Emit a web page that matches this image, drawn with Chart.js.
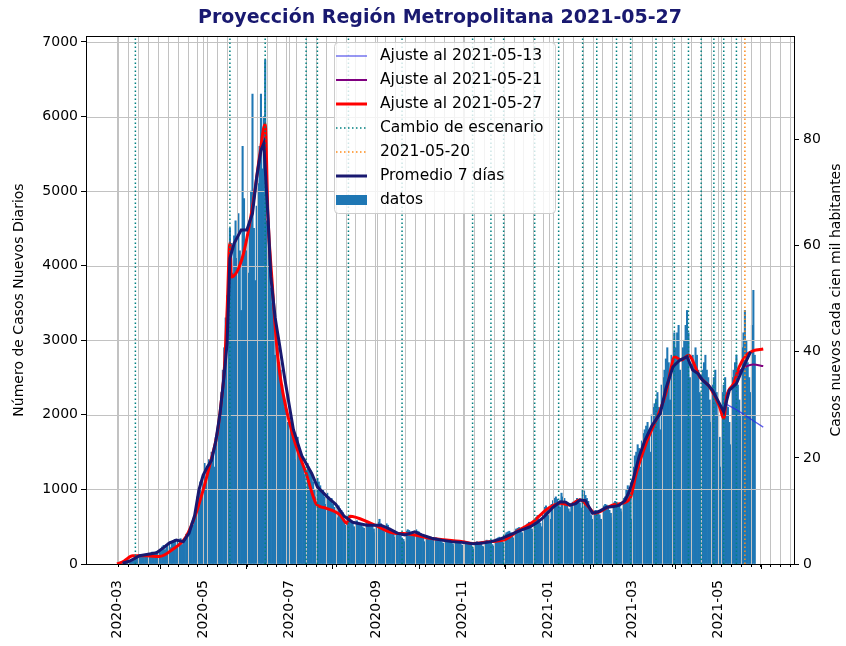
<!DOCTYPE html>
<html>
<head>
<meta charset="utf-8">
<script src="https://cdn.jsdelivr.net/npm/chart.js@4.4.0/dist/chart.umd.min.js"></script>
<style>
  html, body { margin: 0; padding: 0; background: #fff; }
  #grafico { display: block; }
</style>
</head>
<body>
<canvas id="grafico" width="846" height="646"></canvas>
<script>
// casos nuevos diarios RM, desde el 2020-03-03
const inicio = '2020-03-03';
const casosDiarios = [
  // mar 2020
  1, 2, 3, 5, 8, 10, 15, 20, 30, 40, 55, 70, 80, 95, 100, 90, 110, 120, 105, 130, 100, 115, 140, 160, 130, 150, 170, 140, 180,
  // abr
  200, 230, 250, 190, 260, 280, 300, 220, 290, 310, 330, 250, 320, 300, 340, 260, 310, 330, 400, 350, 420, 480, 560, 520, 640, 700, 900, 1000, 1100, 950,
  // may
  1200, 1350, 1100, 1300, 1400, 1350, 1500, 1450, 1300, 1700, 1800, 2000, 2100, 2300, 2600, 2900, 3300, 3600, 4000, 4500, 4300, 3900, 4400, 4600, 4100, 4700, 4200, 3400, 5600, 4900, 4300,
  // jun
  4200, 3900, 4600, 5000, 6300, 4500, 3800, 4800, 5100, 5600, 6300, 5300, 6000, 6760, 4600, 4300, 4000, 3700, 3500, 3300, 2800, 3100, 2900, 2700, 2600, 2400, 2200, 2100, 1700, 1900,
  // jul
  2000, 1900, 1850, 1750, 1600, 1400, 1700, 1500, 1400, 1450, 1300, 1200, 1100, 1350, 1300, 1250, 1200, 1100, 1000, 900, 1150, 1100, 1050, 950, 1000, 900, 800, 950, 900, 850, 880,
  // ago
  800, 760, 700, 620, 780, 740, 720, 690, 600, 520, 640, 620, 580, 560, 540, 500, 450, 580, 560, 540, 520, 500, 480, 440, 560, 540, 520, 500, 530, 470, 420,
  // sep
  520, 560, 600, 540, 500, 470, 430, 540, 520, 480, 450, 430, 400, 360, 420, 410, 400, 380, 350, 330, 300, 440, 460, 450, 430, 420, 400, 370, 460, 440,
  // oct
  430, 400, 380, 350, 300, 380, 370, 360, 350, 340, 320, 280, 350, 340, 330, 320, 300, 280, 250, 320, 310, 300, 310, 290, 270, 240, 310, 300, 290, 280, 260,
  // nov
  250, 230, 290, 280, 270, 290, 260, 220, 200, 290, 300, 280, 290, 270, 240, 230, 310, 320, 300, 310, 290, 260, 240, 330, 340, 350, 360, 330, 300, 280,
  // dic
  400, 420, 430, 440, 420, 380, 350, 460, 470, 480, 490, 470, 420, 390, 500, 520, 540, 560, 530, 470, 430, 580, 620, 650, 600, 550, 500, 700, 760, 780, 720,
  // ene 2021
  650, 600, 800, 850, 880, 900, 870, 820, 760, 950, 900, 880, 820, 780, 740, 700, 780, 830, 800, 850, 880, 860, 820, 750, 1000, 980, 920, 880, 840, 720, 650,
  // feb
  600, 700, 720, 700, 680, 660, 600, 560, 780, 800, 790, 760, 720, 680, 620, 820, 840, 830, 800, 780, 740, 700, 880, 900, 1000, 1050, 980, 900,
  // mar
  600, 1300, 1450, 1500, 1600, 1550, 1300, 1650, 1750, 1800, 1850, 1900, 1800, 1500, 2000, 2100, 2150, 2200, 2300, 2100, 1800, 2400, 2500, 2600, 2750, 2900, 2700, 2200, 2800, 3000, 3100,
  // abr
  2900, 3100, 3200, 2600, 2300, 2900, 3000, 3200, 3400, 3100, 2500, 2200, 2800, 2700, 2900, 2800, 2600, 2300, 2000, 2600, 2700, 2800, 2600, 2500, 2200, 1900, 2400, 2500, 2600, 2300,
  // may
  2000, 1700, 1300, 2300, 2400, 2500, 2200, 2100, 1900, 1600, 2500, 2600, 2700, 2800, 2400, 2200, 2000, 2900, 3100, 3400, 3000, 2700, 2500, 2300, 3200, 3670, 2800
];

const promedioFechas = [
  '2020-03-05', '2020-03-10', '2020-03-17', '2020-03-23', '2020-03-29', '2020-04-03', '2020-04-07', '2020-04-12',
  '2020-04-17', '2020-04-21', '2020-04-25', '2020-04-28', '2020-05-01', '2020-05-04', '2020-05-07', '2020-05-10',
  '2020-05-13', '2020-05-16', '2020-05-18', '2020-05-20', '2020-05-23', '2020-05-28', '2020-06-01', '2020-06-05',
  '2020-06-08', '2020-06-11', '2020-06-13', '2020-06-16', '2020-06-18', '2020-06-21', '2020-06-24', '2020-06-28',
  '2020-07-04', '2020-07-10', '2020-07-17', '2020-07-21', '2020-07-28', '2020-08-03', '2020-08-09', '2020-08-15',
  '2020-08-20', '2020-08-25', '2020-08-30', '2020-09-04', '2020-09-10', '2020-09-16', '2020-09-21', '2020-09-28',
  '2020-10-03', '2020-10-10', '2020-10-17', '2020-10-24', '2020-10-31', '2020-11-05', '2020-11-09', '2020-11-15',
  '2020-11-21', '2020-11-27', '2020-12-02', '2020-12-07', '2020-12-12', '2020-12-19', '2020-12-24', '2020-12-28',
  '2020-12-31', '2021-01-04', '2021-01-09', '2021-01-13', '2021-01-16', '2021-01-20', '2021-01-23', '2021-01-27',
  '2021-02-01', '2021-02-05', '2021-02-11', '2021-02-16', '2021-02-20', '2021-02-24', '2021-02-27', '2021-03-02',
  '2021-03-06', '2021-03-10', '2021-03-15', '2021-03-21', '2021-03-25', '2021-03-30', '2021-04-04', '2021-04-09',
  '2021-04-13', '2021-04-17', '2021-04-20', '2021-04-24', '2021-04-27', '2021-05-02', '2021-05-05', '2021-05-09',
  '2021-05-14', '2021-05-19', '2021-05-24'
];
const promedioValores = [
  10, 40, 110, 130, 150, 220, 280, 320,
  300, 410, 650, 990, 1190, 1300, 1390, 1650,
  2020, 2550, 2960, 4100, 4300, 4480, 4480, 4700,
  5190, 5550, 5640, 4650, 3850, 3310, 2960, 2470,
  1800, 1450, 1215, 1035, 900, 800, 640, 560,
  540, 520, 520, 520, 470, 410, 390, 430,
  390, 345, 320, 300, 290, 280, 270, 280,
  300, 330, 370, 410, 450, 500, 560, 620,
  680, 760, 835, 830, 790, 810, 858, 850,
  680, 700, 760, 770, 790, 850, 970, 1150,
  1440, 1650, 1850, 2020, 2350, 2645, 2735, 2780,
  2600, 2550, 2465, 2400, 2330, 2150, 2040, 2330,
  2420, 2645, 2845
];

// ajuste con datos al 2021-05-27
const ajuste27Fechas = [
  '2020-03-01', '2020-03-06', '2020-03-12', '2020-03-22', '2020-03-31', '2020-04-09', '2020-04-19', '2020-04-26',
  '2020-05-01', '2020-05-06', '2020-05-11', '2020-05-14', '2020-05-16', '2020-05-18', '2020-05-20', '2020-05-21',
  '2020-05-29', '2020-06-05', '2020-06-10', '2020-06-14', '2020-06-16', '2020-06-19', '2020-06-22', '2020-06-25',
  '2020-07-04', '2020-07-13', '2020-07-20', '2020-07-23', '2020-07-27', '2020-08-06', '2020-08-11', '2020-08-13',
  '2020-08-28', '2020-09-15', '2020-09-20', '2020-10-09', '2020-11-01', '2020-11-08', '2020-11-20', '2020-11-30',
  '2020-12-11', '2020-12-21', '2020-12-30', '2021-01-09', '2021-01-16', '2021-01-23', '2021-01-28', '2021-02-03',
  '2021-02-06', '2021-02-15', '2021-02-22', '2021-02-28', '2021-03-04', '2021-03-11', '2021-03-18', '2021-03-20',
  '2021-03-25', '2021-03-30', '2021-03-31', '2021-04-05', '2021-04-10', '2021-04-18', '2021-04-25', '2021-05-02',
  '2021-05-05', '2021-05-07', '2021-05-12', '2021-05-16', '2021-05-21', '2021-05-26', '2021-06-02'
];
const ajuste27Valores = [
  0, 40, 110, 110, 100, 190, 370, 680,
  990, 1350, 1750, 2200, 2600, 3400, 4300, 3850,
  4120, 4790, 5460, 5900, 4650, 3760, 2960, 2470,
  1700, 1215, 810, 770, 750, 660, 545, 640,
  545, 410, 410, 345, 300, 275, 300, 320,
  455, 567, 725, 815, 790, 860, 790, 680,
  700, 790, 815, 900, 1215, 1620, 1930, 2020,
  2290, 2735, 2780, 2735, 2800, 2510, 2375, 2110,
  1950, 2240, 2420, 2645, 2800, 2860, 2882
];

// ajustes anteriores (solo el tramo final se separa del último)
const ajuste21Fechas = ['2021-05-05', '2021-05-07', '2021-05-12', '2021-05-16', '2021-05-21', '2021-05-26', '2021-06-02'];
const ajuste21Valores = [1950, 2240, 2420, 2580, 2650, 2675, 2654];
const ajuste13Fechas = ['2021-05-05', '2021-05-12', '2021-05-19', '2021-05-26', '2021-06-02'];
const ajuste13Valores = [2160, 2090, 2010, 1920, 1836];

const escenarios = [
  '2020-03-14', '2020-05-20', '2020-06-14', '2020-07-13', '2020-07-21', '2020-08-12', '2020-09-19', '2020-11-08',
  '2020-11-21', '2020-11-30', '2020-12-22', '2021-01-08', '2021-01-25', '2021-02-04', '2021-02-18', '2021-02-28',
  '2021-03-18', '2021-03-31', '2021-04-10', '2021-04-19', '2021-04-28', '2021-05-05', '2021-05-14'
];
const fechaCorte = '2021-05-20';

const etiquetasMeses = ['2020-03', '2020-05', '2020-07', '2020-09', '2020-11', '2021-01', '2021-03', '2021-05'];
const ticksCasos = [0, 1000, 2000, 3000, 4000, 5000, 6000, 7000];
const ticksTasa = [0, 20, 40, 60, 80];
const poblacion = 7112808;

const Y_MAX = 7080;
const X_MIN = -22, X_MAX = 479.8;
const FUENTE = 'DejaVu Sans';

Chart.defaults.font.family = FUENTE;
Chart.defaults.color = '#000';

const dia0 = Date.UTC(2020, 2, 1);
function dia(f) {
  const [a, m, d] = f.split('-').map(Number);
  return (Date.UTC(a, m - 1, d || 1) - dia0) / 864e5;
}
function puntos(fechas, valores) {
  return fechas.map((f, i) => ({ x: dia(f), y: valores[i] }));
}
function verticales(fechas) {
  const p = [];
  fechas.forEach(f => {
    const x = dia(f);
    p.push({ x: x, y: 0 }, { x: x, y: Y_MAX }, { x: x, y: null });
  });
  return p;
}

const barras = casosDiarios.map((v, i) => ({ x: dia(inicio) + i, y: v }));

// lunes para la rejilla menor
const lunes = [];
for (let d = 1; d <= X_MAX; d += 7) lunes.push(d);

const leyenda = [
  { texto: 'Ajuste al 2021-05-13', color: 'rgba(40,40,230,0.75)', ancho: 1.3 },
  { texto: 'Ajuste al 2021-05-21', color: '#800080', ancho: 2 },
  { texto: 'Ajuste al 2021-05-27', color: '#ff0000', ancho: 3 },
  { texto: 'Cambio de escenario', color: '#008080', ancho: 1.5, punteada: true },
  { texto: '2021-05-20', color: '#ff8c1a', ancho: 1.5, punteada: true },
  { texto: 'Promedio 7 días', color: '#191970', ancho: 3 },
  { texto: 'datos', color: '#1f77b4', barra: true }
];

const decorado = {
  id: 'decorado',
  afterDatasetDraw(chart, args) {
    if (args.index !== 0) return;
    // rejilla sobre las barras
    const ctx = chart.ctx, a = chart.chartArea;
    const sx = chart.scales.x, sy = chart.scales.y;
    ctx.save();
    ctx.strokeStyle = '#c2c2c2';
    ctx.lineWidth = 1;
    ctx.beginPath();
    lunes.concat(etiquetasMeses.map(dia)).forEach(d => {
      const x = Math.round(sx.getPixelForValue(d)) + 0.5;
      ctx.moveTo(x, a.top); ctx.lineTo(x, a.bottom);
    });
    ticksCasos.forEach(v => {
      const y = Math.round(sy.getPixelForValue(v)) + 0.5;
      ctx.moveTo(a.left, y); ctx.lineTo(a.right, y);
    });
    ctx.stroke();
    ctx.restore();
  },
  afterDraw(chart) {
    const ctx = chart.ctx, a = chart.chartArea;
    const sx = chart.scales.x;
    ctx.save();
    // marco
    ctx.strokeStyle = '#000';
    ctx.lineWidth = 1;
    ctx.strokeRect(Math.round(a.left) + 0.5, Math.round(a.top) + 0.5, Math.round(a.right - a.left), Math.round(a.bottom - a.top));
    // ticks menores
    ctx.beginPath();
    lunes.forEach(d => {
      const x = Math.round(sx.getPixelForValue(d)) + 0.5;
      ctx.moveTo(x, a.bottom); ctx.lineTo(x, a.bottom + 3);
    });
    ctx.stroke();

    // título
    ctx.fillStyle = '#191970';
    ctx.font = 'bold 19px "' + FUENTE + '"';
    ctx.textAlign = 'center';
    ctx.textBaseline = 'middle';
    ctx.fillText('Proyección Región Metropolitana 2021-05-27', (a.left + a.right) / 2, 18);

    // nombres de ejes
    ctx.fillStyle = '#000';
    ctx.font = '14px "' + FUENTE + '"';
    const cy = (a.top + a.bottom) / 2;
    ctx.save();
    ctx.translate(19, cy); ctx.rotate(-Math.PI / 2);
    ctx.fillText('Número de Casos Nuevos Diarios', 0, 0);
    ctx.restore();
    ctx.save();
    ctx.translate(836, cy); ctx.rotate(-Math.PI / 2);
    ctx.fillText('Casos nuevos cada cien mil habitantes', 0, 0);
    ctx.restore();

    // leyenda
    const lx = 334, ly = 42, lw = 221, lh = 171;
    ctx.beginPath();
    ctx.roundRect(lx + 0.5, ly + 0.5, lw, lh, 4);
    ctx.fillStyle = 'rgba(255,255,255,0.8)';
    ctx.fill();
    ctx.strokeStyle = '#cccccc';
    ctx.stroke();
    ctx.font = '15.5px "' + FUENTE + '"';
    ctx.textAlign = 'left';
    leyenda.forEach((e, i) => {
      const y = 56 + i * 24;
      if (e.barra) {
        ctx.fillStyle = e.color;
        ctx.fillRect(336, y - 5, 31, 10);
      } else {
        ctx.beginPath();
        ctx.strokeStyle = e.color;
        ctx.lineWidth = e.ancho;
        ctx.setLineDash(e.punteada ? [1.5, 2.5] : []);
        ctx.moveTo(336, y); ctx.lineTo(367, y);
        ctx.stroke();
        ctx.setLineDash([]);
      }
      ctx.fillStyle = '#000';
      ctx.fillText(e.texto, 380, y);
    });
    ctx.restore();
  }
};

const lineaBase = { type: 'line', pointRadius: 0, fill: false, spanGaps: false };

new Chart(document.getElementById('grafico'), {
  type: 'bar',
  data: {
    datasets: [
      { label: 'datos', data: barras, backgroundColor: '#1f77b4', borderWidth: 0,
        barPercentage: 1, categoryPercentage: 1, order: 10 },
      Object.assign({}, lineaBase, { label: 'Ajuste al 2021-05-13', data: puntos(ajuste13Fechas, ajuste13Valores),
        borderColor: 'rgba(40,40,230,0.75)', borderWidth: 1.3, order: 9 }),
      Object.assign({}, lineaBase, { label: 'Ajuste al 2021-05-21', data: puntos(ajuste21Fechas, ajuste21Valores),
        borderColor: '#800080', borderWidth: 2, cubicInterpolationMode: 'monotone', order: 8 }),
      Object.assign({}, lineaBase, { label: 'Ajuste al 2021-05-27', data: puntos(ajuste27Fechas, ajuste27Valores),
        borderColor: '#ff0000', borderWidth: 3, cubicInterpolationMode: 'monotone', order: 7 }),
      Object.assign({}, lineaBase, { label: 'Cambio de escenario', data: verticales(escenarios),
        borderColor: '#008080', borderWidth: 1.5, borderDash: [1.5, 2.5], order: 6 }),
      Object.assign({}, lineaBase, { label: '2021-05-20', data: verticales([fechaCorte]),
        borderColor: '#ff8c1a', borderWidth: 1.5, borderDash: [1.5, 2.5], order: 5 }),
      Object.assign({}, lineaBase, { label: 'Promedio 7 días', data: puntos(promedioFechas, promedioValores),
        borderColor: '#191970', borderWidth: 3, order: 4 })
    ]
  },
  options: {
    responsive: false,
    animation: false,
    layout: { padding: { top: 36, left: 0, right: 0, bottom: 0 } },
    plugins: {
      legend: { display: false },
      title: { display: false },
      tooltip: { enabled: false }
    },
    scales: {
      x: {
        type: 'linear',
        min: X_MIN,
        max: X_MAX,
        offset: false,
        afterFit(s) { s.height = 82; },
        afterBuildTicks(s) { s.ticks = etiquetasMeses.map(m => ({ value: dia(m) })); },
        ticks: {
          autoSkip: false,
          minRotation: 90,
          maxRotation: 90,
          padding: 11,
          font: { size: 14 },
          callback: (v, i) => etiquetasMeses[i]
        },
        grid: { drawOnChartArea: false, color: '#000', tickLength: 5 },
        border: { display: false }
      },
      y: {
        type: 'linear',
        position: 'left',
        min: 0,
        max: Y_MAX,
        afterFit(s) { s.width = 86; },
        afterBuildTicks(s) { s.ticks = ticksCasos.map(v => ({ value: v })); },
        ticks: { padding: 3, font: { size: 14 }, callback: v => String(v) },
        grid: { drawOnChartArea: false, color: '#000', tickLength: 5 },
        border: { display: false }
      },
      tasa: {
        type: 'linear',
        position: 'right',
        display: true,
        min: 0,
        max: Y_MAX * 100000 / poblacion,
        afterFit(s) { s.width = 52; },
        afterBuildTicks(s) { s.ticks = ticksTasa.map(v => ({ value: v })); },
        ticks: { padding: 4, font: { size: 14 }, callback: v => String(v) },
        grid: { drawOnChartArea: false, color: '#000', tickLength: 5 },
        border: { display: false }
      }
    }
  },
  plugins: [decorado]
});
</script>
</body>
</html>
